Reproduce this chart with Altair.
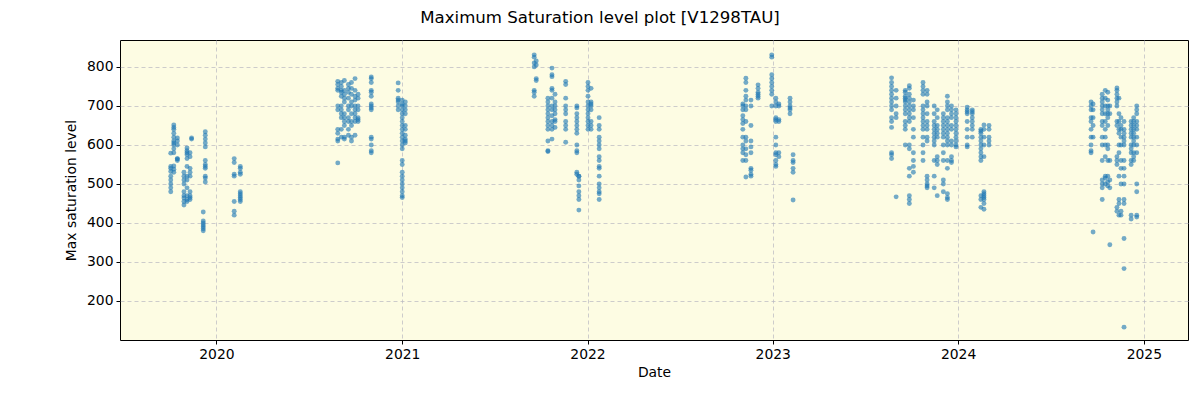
import altair as alt
import pandas as pd

# ---- data: observation nights (date) and the max saturation levels measured that night ----
dates_2019 = ["2019-10-03", "2019-10-09", "2019-10-16", "2019-10-29", "2019-11-04", "2019-11-10",
              "2019-11-13", "2019-12-06", "2019-12-10", "2020-02-05", "2020-02-17"]
values_2019 = [
    [532, 520, 510, 500, 490, 480, 579, 545, 540],
    [651, 645, 640, 630, 620, 610, 605, 600, 590, 580, 546, 538, 530],
    [618, 610, 600, 564, 560, 565],
    [464, 455, 446, 470, 480, 500, 510, 520, 530],
    [592, 585, 580, 575, 565, 545, 520, 510, 490, 470, 460, 455],
    [580, 570, 540, 530, 520, 480, 470, 465, 460],
    [615, 618],
    [428, 405, 400, 395, 390, 385, 380],
    [634, 625, 615, 605, 595, 560, 550, 545, 540, 520, 515, 505],
    [565, 555, 525, 520, 455, 430, 420],
    [545, 540, 530, 525, 480, 475, 470, 465, 460, 455],
]

dates_2020 = ["2020-08-27", "2020-09-03", "2020-09-09", "2020-09-17", "2020-09-23", "2020-09-30",
              "2020-10-06", "2020-11-01", "2020-12-24", "2021-01-01", "2021-01-07"]
values_2020 = [
    [763, 755, 745, 740, 700, 690, 640, 630, 615, 610, 554],
    [760, 750, 740, 735, 725, 700, 690, 680, 670, 640, 620],
    [765, 740, 730, 720, 710, 680, 670, 660, 650, 620, 615],
    [755, 745, 735, 720, 700, 690, 670, 660, 640, 625],
    [760, 745, 730, 710, 700, 680, 660, 650, 620, 610],
    [770, 740, 725, 715, 700, 690, 680, 670, 660, 625],
    [730, 720, 700, 690, 670, 665, 660],
    [774, 770, 760, 740, 735, 725, 705, 700, 695, 690, 620, 615, 600, 585, 580],
    [759, 740, 720, 715, 710, 700, 690],
    [715, 705, 700, 690, 680, 670, 660, 650, 640, 630, 620, 610, 600, 590, 560, 550,
     530, 520, 510, 500, 490, 480, 470, 465],
    [710, 700, 690, 680, 650, 640, 625, 615, 610, 605],
]

dates_2021 = ["2021-09-18", "2021-09-22", "2021-10-15", "2021-10-23", "2021-10-29", "2021-11-19",
              "2021-12-11", "2021-12-15", "2022-01-02", "2022-01-08", "2022-01-24"]
values_2021 = [
    [831, 825, 810, 800, 740, 735, 725],
    [815, 805, 770, 765],
    [720, 710, 700, 690, 680, 670, 660, 650, 640, 610, 585, 583],
    [797, 780, 775, 745, 740, 720, 700, 690, 675, 660, 650, 640, 615],
    [730, 710, 700, 690, 680, 665, 660, 645],
    [763, 755, 720, 700, 690, 680, 660, 650, 640, 607],
    [700, 695, 680, 670, 660, 650, 640, 630, 600, 585, 580, 530, 525],
    [520, 510, 495, 480, 470, 460, 433, 520],
    [760, 750, 740, 725, 710, 700, 690, 680, 670, 660, 650, 640],
    [745, 710, 705, 700, 690, 660, 650, 640],
    [670, 650, 640, 620, 610, 600, 590, 570, 560, 545, 540, 520, 500, 490, 480, 475, 460],
]

dates_2022 = ["2022-11-03", "2022-11-09", "2022-11-19", "2022-12-03", "2022-12-30", "2023-01-07",
              "2023-01-13", "2023-02-04", "2023-02-10"]
values_2022 = [
    [705, 700, 690, 675, 665, 655, 640, 620, 600, 590, 580, 560],
    [771, 760, 740, 725, 715, 700, 690, 660, 620, 610, 590, 575, 560, 518],
    [715, 700, 650, 610, 595, 580, 540, 535, 525, 520],
    [754, 745, 735, 730, 725, 720],
    [831, 825, 780, 770, 760, 750, 740, 730, 700],
    [720, 710, 700, 670, 665, 660, 620, 600, 580, 575, 560, 550, 545],
    [705, 700, 665, 660, 580, 570],
    [720, 710, 700, 695, 690, 680],
    [575, 560, 555, 540, 530, 459],
]

dates_2023 = ["2023-08-23", "2023-09-01", "2023-09-19", "2023-09-27", "2023-10-05", "2023-10-24",
              "2023-11-01", "2023-11-15", "2023-11-21", "2023-12-03", "2023-12-11", "2023-12-19",
              "2023-12-28", "2024-01-19", "2024-01-29", "2024-02-15", "2024-02-21", "2024-03-02"]
values_2023 = [
    [772, 760, 750, 740, 730, 720, 710, 700, 690, 670, 660, 645, 580, 575, 565],
    [740, 720, 700, 680, 670, 467],
    [740, 735, 725, 720, 715, 710, 700, 690, 680, 660, 650, 640, 600],
    [752, 745, 730, 720, 710, 700, 690, 680, 670, 660, 600, 590, 540, 520, 470, 460, 450],
    [715, 700, 690, 670, 640, 620, 580, 560, 545, 530],
    [760, 750, 740, 730, 700, 690, 680, 670, 660, 650, 640, 620, 600, 580, 560],
    [740, 730, 710, 700, 680, 660, 650, 640, 620, 610, 520, 510, 500, 495, 490],
    [700, 680, 660, 650, 640, 630, 620, 610, 600, 560, 520, 490],
    [690, 670, 650, 640, 630, 620, 570, 560, 550, 470],
    [680, 670, 660, 650, 640, 630, 620, 600, 580, 560, 510, 500, 480],
    [725, 710, 700, 690, 670, 660, 650, 640, 630, 620, 610, 600, 560, 540, 475, 465, 460],
    [700, 690, 680, 670, 650, 640, 610, 600, 570, 560, 555],
    [690, 680, 670, 660, 650, 640, 630, 620, 610, 600, 595],
    [697, 690, 685, 680, 660, 640, 620, 600, 595],
    [690, 685, 680, 670, 660, 650, 640, 620],
    [640, 635, 630, 620, 610, 600, 590, 580, 570, 560, 470, 460, 440],
    [651, 640, 620, 600, 570, 480, 475, 470, 465, 460, 450, 435],
    [650, 640, 620, 610, 600],
]

dates_2024 = ["2024-09-19", "2024-09-23", "2024-10-11", "2024-10-17", "2024-10-22", "2024-10-26",
              "2024-11-09", "2024-11-13", "2024-11-17", "2024-11-23", "2024-12-07", "2024-12-12",
              "2024-12-18"]
values_2024 = [
    [710, 700, 690, 670, 660, 640, 620, 600, 585, 580],
    [705, 690, 670, 650, 620, 377],
    [730, 720, 710, 700, 690, 680, 660, 650, 620, 600, 560, 510, 500, 490, 460],
    [740, 720, 700, 680, 660, 640, 620, 600, 570, 520, 515, 500],
    [735, 715, 700, 690, 680, 670, 650, 600, 590, 560, 520, 505, 495],
    [700, 680, 560, 510, 490, 344],
    [746, 740, 730, 720, 710, 700, 660, 650, 570, 560, 550, 440, 430],
    [720, 680, 660, 640, 630, 600, 580, 520, 460, 450, 420],
    [670, 650, 640, 620, 600, 560, 540, 500, 430, 420],
    [660, 640, 630, 620, 610, 600, 560, 540, 520, 500, 460, 450, 360, 283, 133],
    [660, 650, 640, 630, 620, 600, 590, 580, 560, 550, 420, 410],
    [670, 660, 650, 640, 630, 620, 610, 600, 580, 570, 560],
    [700, 690, 680, 660, 650, 640, 620, 600, 580, 500, 480, 420, 415],
]

year_ticks = [2020, 2021, 2022, 2023, 2024, 2025]
y_ticks = [200, 300, 400, 500, 600, 700, 800]

rows = []
for ds, vs in [(dates_2019, values_2019), (dates_2020, values_2020), (dates_2021, values_2021),
               (dates_2022, values_2022), (dates_2023, values_2023), (dates_2024, values_2024)]:
    for d, vals in zip(ds, vs):
        for v in vals:
            rows.append({"date": d, "value": v})
df = pd.DataFrame(rows)

FONT = "DejaVu Sans"

chart = alt.Chart(df).mark_circle(size=24, opacity=0.62, color="#1f77b4").encode(
    x=alt.X(
        "date:T",
        title="Date",
        scale=alt.Scale(
            type="utc",
            domain=[alt.DateTime(year=2019, month=6, date=25, utc=True),
                    alt.DateTime(year=2025, month=3, date=29, utc=True)],
        ),
        axis=alt.Axis(
            values=[alt.DateTime(year=y, month=1, date=1, utc=True) for y in year_ticks],
            format="%Y",
            labelFlush=False,
            titlePadding=5,
        ),
    ),
    y=alt.Y(
        "value:Q",
        title="Max saturation level",
        scale=alt.Scale(domain=[100, 869], nice=False, zero=False),
        axis=alt.Axis(values=y_ticks, titlePadding=8),
    ),
).properties(
    width=1068,
    height=300,
    title=alt.TitleParams(
        "Maximum Saturation level plot [V1298TAU]",
        fontSize=16.6,
        font=FONT,
        fontWeight="normal",
        anchor="middle",
        dx=-54,
        offset=13,
        color="black",
    ),
    autosize=alt.AutoSizeParams(type="none"),
    padding={"left": 120, "top": 40, "right": 12, "bottom": 60},
).configure_view(
    fill="#fdfce3",
    stroke="black",
    strokeWidth=1,
).configure_axis(
    domain=False,
    grid=True,
    gridColor="#b8b8c0",
    gridDash=[4, 3],
    gridOpacity=0.7,
    tickColor="black",
    tickSize=4,
    labelFont=FONT,
    labelFontSize=13.9,
    labelColor="black",
    titleFont=FONT,
    titleFontSize=13.9,
    titleFontWeight="normal",
    titleColor="black",
    labelPadding=3,
)

chart.save("out.html", embed_options={"renderer": "svg", "actions": False})
